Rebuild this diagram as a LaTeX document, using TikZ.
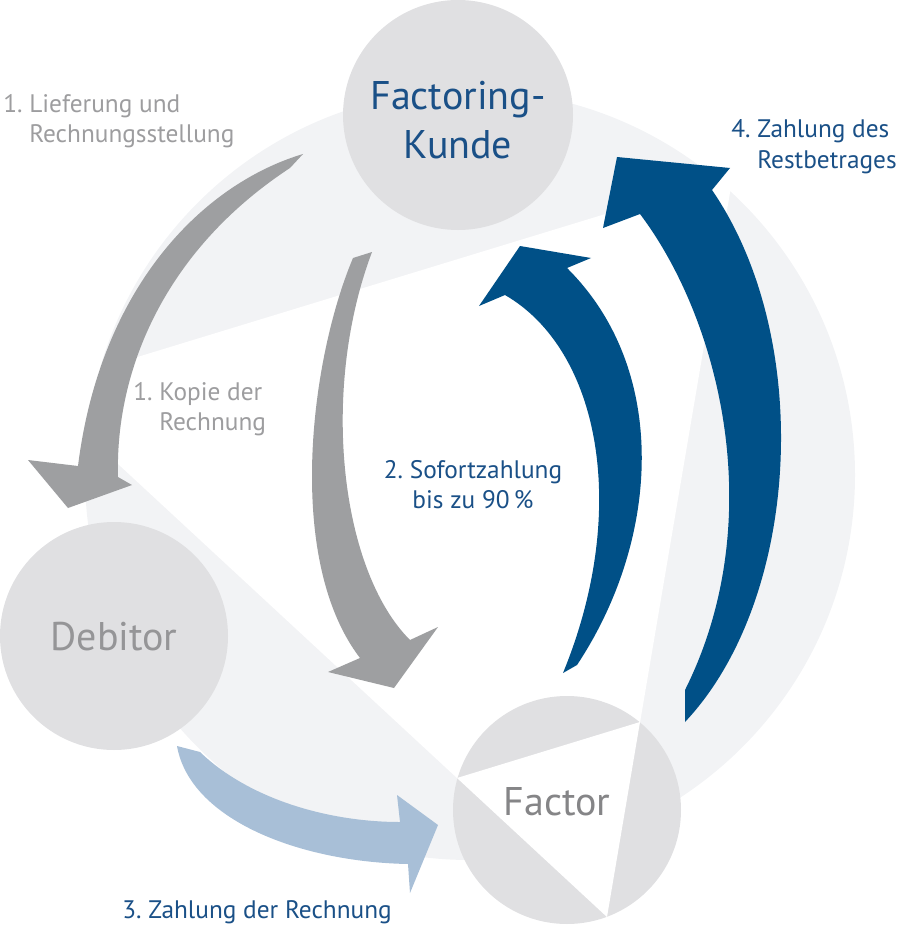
\documentclass[tikz,border=0pt]{standalone}
\usepackage{fontspec}
\setmainfont{PT Sans}
\definecolor{ring}{HTML}{F2F3F5}
\definecolor{kreisgrau}{HTML}{E0E0E2}
\definecolor{pfeilgrau}{HTML}{9E9FA1}
\definecolor{pfeilblau}{HTML}{005087}
\definecolor{hellblau}{HTML}{A8BFD7}
\definecolor{textblau}{HTML}{1A5087}
\definecolor{textgrau}{HTML}{9D9D9F}
\begin{document}
\begin{tikzpicture}[x=0.75pt,y=-0.75pt,
  kreis/.style={circle,fill=kreisgrau,minimum size=171pt,inner sep=0pt},
  gross/.style={inner sep=0pt,anchor=base,align=center,font=\fontsize{30}{36}\selectfont},
  schritt/.style={inner sep=0pt,anchor=base west,align=left,font=\fontsize{19}{22.5}\selectfont}]
  \useasboundingbox (0,0) rectangle (900,938);
  \fill [ring] (470,475) circle [radius=385];
  \fill [white] (36,388) -- (733,175) -- (607,917) -- cycle;
  \node [kreis,minimum size=172.5pt] (kunde) at (458,115) {};
  \node [kreis] (debitor) at (114,636) {};
  \node [kreis,path picture={
    \fill [white] ([shift={(-110,-32)}]path picture bounding box.center) -- ([shift={(73,-88)}]path picture bounding box.center)
    -- ([shift={(40,107)}]path picture bounding box.center) -- cycle;}] (factor) at (567,810) {};
  \node [gross,text=textblau] (kundetext) at (458,158) {Factoring-\\Kunde};
  \node [gross,text=textgrau!95!black] (debitortext) at (114,650) {Debitor};
  \node [gross,text=textgrau!85!black] (factortext) at (557,815) {Factor};
  \fill [pfeilgrau] (303,154) .. controls (200,185) and (100,290) .. (78,466) -- (28,460) -- (68,508) -- (132,485) -- (118,477)
    .. controls (115,370) and (165,250) .. (290,168) -- cycle;
  \fill [pfeilgrau] (353,258) .. controls (310,360) and (285,560) .. (360,658) -- (328,672) -- (394,688) -- (438,627) -- (410,640)
    .. controls (340,570) and (320,390) .. (372,252) -- cycle;
  \fill [pfeilblau] (577,665) .. controls (660,540) and (670,370) .. (567,268) -- (591,258) -- (520,246) -- (479,306) -- (505,295)
    .. controls (600,350) and (630,510) .. (563,673) -- cycle;
  \fill [pfeilblau] (685,722) .. controls (800,600) and (815,340) .. (712,190) -- (730,168) -- (617,157) -- (603,228) -- (640,214)
    .. controls (720,320) and (770,520) .. (685,690) -- cycle;
  \fill [hellblau] (200,752) .. controls (250,800) and (330,822) .. (400,822) -- (397,795) -- (438,825) -- (410,893) -- (408,864)
    .. controls (300,862) and (190,820) .. (177,746) -- cycle;
  \node [schritt,text=textgrau] (lieferung) at (3,143) {1.~Lieferung und\\\phantom{1.~}Rechnungsstellung};
  \node [schritt,text=textgrau] (kopie) at (133,430) {1.~Kopie der\\\phantom{1.~}Rechnung};
  \node [schritt,text=textblau,anchor=base,align=center] (sofort) at (473,508) {2.~Sofortzahlung\\bis zu 90\,\%};
  \node [schritt,text=textblau] (zahlung) at (122,918) {3.~Zahlung der Rechnung};
  \node [schritt,text=textblau] (rest) at (731,168) {4.~Zahlung des\\\phantom{4.~}Restbetrages};
\end{tikzpicture}
\end{document}
